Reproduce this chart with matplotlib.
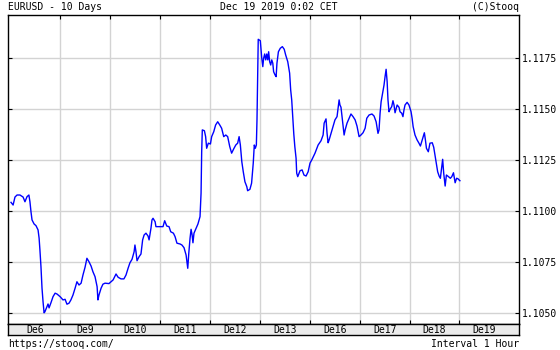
import numpy as np
import matplotlib
matplotlib.use("Agg")
import matplotlib.pyplot as plt

# hours since Dec 6 00:00 CET, EURUSD quote
hours = [0.3, 1.3, 2.2, 3.2, 4.6, 6.1, 7.0, 8.0, 8.9, 9.4, 9.9, 10.4, 11.4, 12.3, 13.3, 13.8,
         14.2, 14.7, 15.2, 15.7, 16.2, 16.6, 17.6, 18.1, 18.6, 19.5, 20.5, 21.5, 22.4, 23.9,
         25.3, 26.3, 27.2, 28.2, 29.1, 30.1, 31.1, 32.0, 33.0, 34.0, 34.9, 35.9, 36.8, 37.8,
         38.8, 39.7, 40.7, 41.7, 42.1, 42.6, 43.6, 44.5, 45.5, 47.4, 49.4, 50.8, 51.8, 53.2,
         54.6, 55.6, 56.6, 57.5, 58.5, 59.5, 59.9, 60.4, 60.9, 61.9, 62.8, 63.6, 64.3, 65.2,
         66.2, 66.7, 67.1, 67.6, 68.1, 68.6, 69.6, 70.0, 72.0, 73.4, 74.2, 75.2, 76.3, 77.1,
         78.4, 79.2, 80.1, 81.6, 82.5, 83.5, 84.5, 85.0, 85.3, 85.8, 86.4, 86.9, 87.4, 87.8,
         88.3, 89.3, 90.2, 91.2, 91.7, 92.0, 92.3, 93.3, 93.9, 94.4, 95.2, 96.2, 96.8, 97.8,
         98.7, 99.7, 100.7, 101.6, 102.6, 103.6, 104.5, 105.5, 106.4, 107.4, 108.4, 109.3,
         110.0, 110.6, 111.3, 112.0, 112.8, 113.7, 114.1, 115.2, 116.0, 116.8, 117.3, 117.8,
         118.3, 118.6, 119.0, 119.2, 120.2, 120.9, 121.4, 121.8, 122.3, 122.8, 123.3, 123.8,
         124.2, 124.7, 125.2, 125.7, 126.2, 126.6, 127.3, 127.8, 128.2, 128.9, 129.8, 130.8,
         131.7, 132.4, 133.4, 134.3, 134.8, 135.3, 135.9, 136.3, 136.8, 137.4, 137.7, 138.2,
         139.3, 140.3, 141.2, 142.2, 143.2, 144.1, 145.1, 146.5, 148.0, 149.4, 150.4, 150.9,
         151.8, 152.3, 152.8, 153.3, 154.2, 155.2, 156.1, 157.1, 157.6, 158.1, 158.5, 159.0,
         159.5, 160.0, 160.5, 161.0, 161.9, 162.9, 163.8, 164.8, 165.8, 166.7, 167.7, 168.6,
         169.6, 170.6, 171.4, 172.5, 173.9, 174.9, 175.9, 176.8, 177.3, 177.8, 178.3, 179.3,
         179.7, 180.2, 180.7, 181.2, 181.6, 182.1, 182.6, 183.4, 184.0, 184.5, 185.0, 186.0,
         186.9, 187.4, 188.2, 188.8, 189.3, 189.8, 190.8, 191.7, 192.7, 193.2, 193.7, 194.6,
         195.6, 196.5, 197.2, 197.8, 198.5, 199.1, 199.6, 200.1, 201.0, 201.8, 202.9, 203.6,
         204.2, 204.8, 205.5, 206.2, 206.8, 207.5, 207.9, 208.4, 209.1, 209.7, 210.7, 211.6,
         212.3, 213.1, 213.9, 214.6, 215.2, 216.2]
eurusd = [1.11044, 1.11031, 1.11070, 1.11080, 1.11080, 1.11070, 1.11047, 1.11072, 1.11080,
          1.11047, 1.10998, 1.10958, 1.10938, 1.10930, 1.10909, 1.10869, 1.10811, 1.10729,
          1.10624, 1.10557, 1.10503, 1.10508, 1.10533, 1.10546, 1.10527, 1.10552, 1.10582,
          1.10599, 1.10595, 1.10582,
          1.10566, 1.10569, 1.10545, 1.10550, 1.10566, 1.10590, 1.10623, 1.10655, 1.10639,
          1.10648, 1.10688, 1.10726, 1.10770, 1.10753, 1.10732, 1.10704, 1.10680, 1.10631,
          1.10566, 1.10590, 1.10623, 1.10643, 1.10648, 1.10646, 1.10664, 1.10693, 1.10677,
          1.10669, 1.10669, 1.10688, 1.10721, 1.10748, 1.10765, 1.10802, 1.10835, 1.10802,
          1.10758, 1.10778, 1.10791, 1.10860, 1.10884, 1.10893, 1.10879, 1.10860, 1.10884,
          1.10917, 1.10958, 1.10966, 1.10949, 1.10925, 1.10925, 1.10925, 1.10954, 1.10928,
          1.10925, 1.10900, 1.10893, 1.10876, 1.10844, 1.10840, 1.10835, 1.10822, 1.10786,
          1.10746, 1.10721, 1.10795, 1.10868, 1.10912, 1.10884, 1.10846, 1.10893, 1.10917,
          1.10938, 1.10974, 1.11089, 1.11292, 1.11399, 1.11395, 1.11366, 1.11309, 1.11334,
          1.11330, 1.11366, 1.11390, 1.11423, 1.11439, 1.11423, 1.11407, 1.11366, 1.11374,
          1.11366, 1.11317, 1.11285, 1.11306, 1.11325, 1.11334, 1.11366, 1.11325, 1.11243,
          1.11194, 1.11145, 1.11121, 1.11101, 1.11108, 1.11138, 1.11236, 1.11325, 1.11309,
          1.11325, 1.11448, 1.11709, 1.11843, 1.11836, 1.11750, 1.11709, 1.11750, 1.11771,
          1.11742, 1.11771, 1.11742, 1.11782, 1.11733, 1.11717, 1.11742, 1.11726, 1.11684,
          1.11668, 1.11660, 1.11726, 1.11782, 1.11799, 1.11807, 1.11794, 1.11766, 1.11733,
          1.11677, 1.11595, 1.11546, 1.11448, 1.11379, 1.11317, 1.11260, 1.11187, 1.11170,
          1.11199, 1.11203, 1.11178, 1.11173, 1.11194, 1.11236, 1.11255, 1.11285, 1.11325,
          1.11346, 1.11374, 1.11432, 1.11453, 1.11382, 1.11336, 1.11350, 1.11382, 1.11418,
          1.11448, 1.11464, 1.11505, 1.11546, 1.11521, 1.11510, 1.11464, 1.11415, 1.11374,
          1.11399, 1.11432, 1.11456, 1.11477, 1.11464, 1.11448, 1.11418, 1.11366, 1.11374,
          1.11385, 1.11407, 1.11456, 1.11472, 1.11477, 1.11467, 1.11439, 1.11382, 1.11399,
          1.11481, 1.11537, 1.11595, 1.11619, 1.11660, 1.11696, 1.11635, 1.11546, 1.11488,
          1.11500, 1.11513, 1.11542, 1.11521, 1.11483, 1.11521, 1.11510, 1.11488, 1.11481,
          1.11464, 1.11497, 1.11521, 1.11534, 1.11521, 1.11488, 1.11456, 1.11415, 1.11374,
          1.11350, 1.11334, 1.11320, 1.11341, 1.11366, 1.11385, 1.11350, 1.11309, 1.11292,
          1.11334, 1.11336, 1.11314, 1.11276, 1.11236, 1.11194, 1.11173, 1.11162, 1.11219,
          1.11255, 1.11187, 1.11124, 1.11178, 1.11170, 1.11162, 1.11170, 1.11189, 1.11140,
          1.11162, 1.11160, 1.11150]
days = ["De6", "De9", "De10", "De11", "De12", "De13", "De16", "De17", "De18", "De19"]
yticks = [1.1050, 1.1075, 1.1100, 1.1125, 1.1150, 1.1175]

W, H = 560, 350
font = "DejaVu Sans Mono"
fs = 7.0

fig = plt.figure(figsize=(W / 100, H / 100), dpi=100, facecolor="white")
L, R, T, B = 8, 519, 15, 324
ax = fig.add_axes([L / W, 1 - B / H, (R - L) / W, (B - T) / H])
x0 = -2.4 * 24 / 49.9
x1 = 508.6 * 24 / 49.9
ax.set_xlim(x0, x1)
ax.set_ylim(1.10448, 1.11962)

grid = "#d3d3d3"
for k in range(1, 10):
    ax.axvline(24 * k, color=grid, lw=1.0, zorder=0)
for v in yticks:
    ax.axhline(v, color=grid, lw=1.0, zorder=0)

ax.plot(hours, eurusd, color="#0000ff", lw=1.0, zorder=3)

ax.set_xticks([24 * k for k in range(1, 10)])
ax.set_xticklabels([])
ax.set_yticks(yticks)
ax.yaxis.tick_right()
ax.set_yticklabels(["%.4f" % v for v in yticks], fontfamily=font, fontsize=fs)
ax.tick_params(axis="both", direction="in", length=3, width=0.8, color="black",
               top=True, bottom=True, left=True, right=True)
ax.tick_params(axis="y", pad=2.2)
for s in ax.spines.values():
    s.set_color("black")
    s.set_linewidth(1.0)

# date band under the plot
band = fig.add_axes([L / W, 1 - 335 / H, (R - L) / W, (335 - B) / H])
band.set_facecolor("#ebebeb")
band.set_xlim(x0, x1)
band.set_ylim(0, 1)
band.set_xticks([])
band.set_yticks([])
for s in band.spines.values():
    s.set_color("black")
    s.set_linewidth(1.0)
for i, d in enumerate(days):
    band.text(24 * i + 12, 0.45, d, ha="center", va="center", fontfamily=font, fontsize=fs)

fig.text(L / W, 1 - 7 / H, "EURUSD - 10 Days", ha="left", va="center", fontfamily=font, fontsize=fs)
fig.text(279 / W, 1 - 7 / H, "Dec 19 2019 0:02 CET", ha="center", va="center", fontfamily=font, fontsize=fs)
fig.text(519 / W, 1 - 7 / H, "(C)Stooq", ha="right", va="center", fontfamily=font, fontsize=fs)
fig.text(L / W, 1 - 344 / H, "https://stooq.com/", ha="left", va="center", fontfamily=font, fontsize=fs)
fig.text(519 / W, 1 - 344 / H, "Interval 1 Hour", ha="right", va="center", fontfamily=font, fontsize=fs)

fig.savefig("out.png", dpi=100)
